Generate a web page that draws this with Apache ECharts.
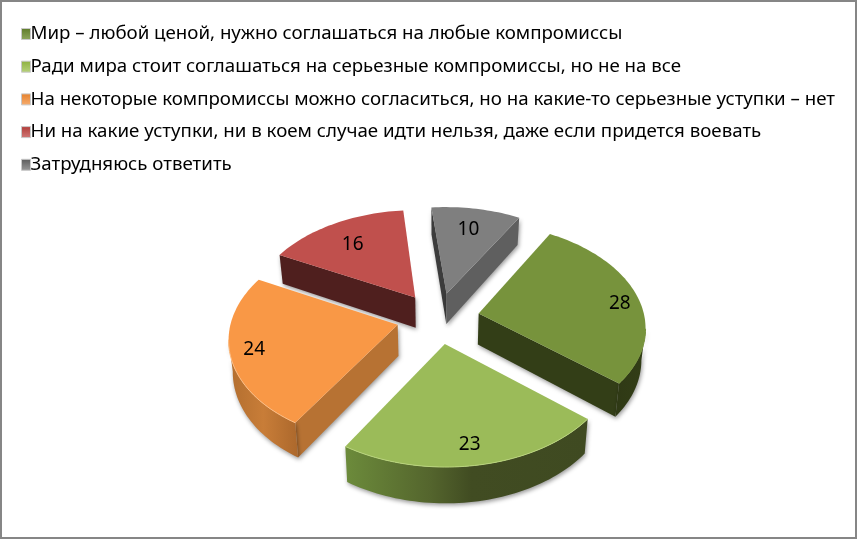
<!DOCTYPE html>
<html><head><meta charset="utf-8">
<style>html,body{margin:0;padding:0;background:#fff}#c{width:857px;height:539px}</style>
<script src="https://cdn.jsdelivr.net/npm/echarts@6/dist/echarts.min.js"></script>
</head><body><div id="c"></div>
<script>
const categories = [
  'Мир – любой ценой, нужно соглашаться на любые компромиссы',
  'Ради мира стоит соглашаться на серьезные компромиссы, но не на все',
  'На некоторые компромиссы можно согласиться, но на какие-то серьезные уступки – нет',
  'Ни на какие уступки, ни в коем случае идти нельзя, даже если придется воевать',
  'Затрудняюсь ответить'
];
const values = [28, 23, 24, 16, 10];

const topColors = ['#77933C', '#9BBB59', '#F99846', '#C0504D', '#7F7F7F'];
const rimColors = ['#77933C', '#B9D47C', '#FDBE85', '#C0504D', '#7F7F7F'];
const startWall = [null, null, '#B77233', '#4F1F1E', '#3C3C3C'];
const endWall = ['#333E17', null, null, null, '#5F5F5F'];
const arcStops = [
  [[0, '#2F3915'], [1, '#333E17']],
  [[0, '#6C8B3B'], [0.35, '#54652D'], [0.52, '#414C22'], [1, '#3F4A21']],
  [[0, '#B26E2F'], [0.5, '#C87D38'], [1, '#AC682C']],
  null, null
];
const drawRank = [4, 6, 5, 2, 3];
const labelFrac = [0.85, 0.8, 0.9, 0.78, 0.75];
const labelNudge = [[6, 5], [0, 6], [7, -1], [2, 6], [-1, 1]];
const legendIconDark = ['#5E7A28', '#8DB03E', '#E5802A', '#B03A37', '#5A5A5A'];
const legendIconLight = ['#8FA85E', '#B8D27E', '#F7AE72', '#D07A78', '#9A9A9A'];

const startAngle = 30, explode = 0.25, S = 166, k = 0.615, q = 0.117, depth = 31, cx = 438, cy = 318, taper = 0.98;
const total = values.reduce((a, b) => a + b, 0);
const rad = d => d * Math.PI / 180;

function project(u, v, drop) {
  const w = 1 + q * v;
  const x = cx + S * u / w, y = cy - S * k * v / w;
  return drop ? [cx + (x - cx) * taper, y + depth / w] : [x, y];
}
function sliceAngles(i) {
  let a = startAngle;
  for (let j = 0; j < i; j++) a += values[j] / total * 360;
  return [a, a + values[i] / total * 360];
}
function makeRender(i) {
  return function (params, api) {
    const val = api.value(0);
    const [a1, a2] = sliceAngles(i);
    const m = rad((a1 + a2) / 2);
    const ou = explode * Math.sin(m), ov = explode * Math.cos(m);
    const pt = (a, d) => project(ou + Math.sin(rad(a)), ov + Math.cos(rad(a)), d);
    const apex = d => project(ou, ov, d);
    const arcAngles = [];
    const n = Math.ceil((a2 - a1) / 1.5);
    for (let s = 0; s <= n; s++) arcAngles.push(a1 + (a2 - a1) * s / n);
    const shadow = { shadowBlur: 4, shadowColor: 'rgba(0,0,0,0.4)', shadowOffsetX: 1, shadowOffsetY: 2 };
    const children = [];
    const quad = (p, q2, color) => children.push({
      type: 'polygon', silent: true,
      shape: { points: [p(false), q2(false), q2(true), p(true)] },
      style: Object.assign({ fill: color }, shadow)
    });
    if (startWall[i]) quad(d => apex(d), d => pt(a1, d), startWall[i]);
    if (endWall[i]) quad(d => pt(a2, d), d => apex(d), endWall[i]);
    const vis = arcAngles.filter((a, idx) => {
      const nxt = arcAngles[idx + 1], prv = arcAngles[idx - 1];
      return (nxt !== undefined && pt(nxt, false)[0] < pt(a, false)[0]) ||
             (prv !== undefined && pt(a, false)[0] < pt(prv, false)[0]);
    });
    if (vis.length > 1 && arcStops[i]) {
      const pts = vis.map(a => pt(a, false)).concat(vis.slice().reverse().map(a => pt(a, true)));
      children.push({
        type: 'polygon', silent: true, shape: { points: pts },
        style: Object.assign({
          fill: { type: 'linear', x: 0, y: 0, x2: 1, y2: 0,
            colorStops: arcStops[i].map(s => ({ offset: s[0], color: s[1] })) }
        }, shadow)
      });
    }
    const topPts = [apex(false)].concat(arcAngles.map(a => pt(a, false)));
    children.push({ type: 'polygon', silent: true, shape: { points: topPts }, style: { fill: topColors[i] } });
    if (vis.length > 1) children.push({
      type: 'polyline', silent: true, shape: { points: vis.map(a => pt(a, false)) },
      style: { fill: 'none', stroke: rimColors[i], lineWidth: 1 }
    });
    const f = labelFrac[i];
    const lp = project(ou + f * Math.sin(m), ov + f * Math.cos(m), false);
    children.push({
      type: 'text', silent: true, x: lp[0] + labelNudge[i][0], y: lp[1] + labelNudge[i][1],
      style: { text: String(val), fill: '#000', font: '19px "Noto Sans", sans-serif', align: 'center', verticalAlign: 'middle' }
    });
    return { type: 'group', children };
  };
}
const chart = echarts.init(document.getElementById('c'), null, { renderer: 'canvas' });
chart.setOption({
  animation: false,
  backgroundColor: '#fff',
  legend: {
    orient: 'vertical', left: 16, top: 17, itemWidth: 9, itemHeight: 11, itemGap: 8.7,
    selectedMode: false, icon: 'rect',
    textStyle: { color: '#000', fontSize: 18.7, fontFamily: '"Noto Sans", sans-serif', lineHeight: 24, padding: [0, 0, 0, -5] },
    data: categories.map((name, i) => ({
      name,
      itemStyle: {
        color: { type: 'linear', x: 0, y: 0, x2: 0, y2: 1,
          colorStops: [{ offset: 0, color: legendIconDark[i] }, { offset: 1, color: legendIconLight[i] }] },
        borderColor: '#C9C9C9', borderWidth: 1
      }
    }))
  },
  graphic: [{ type: 'rect', silent: true, z: 100,
    shape: { x: 1, y: 1, width: 855, height: 537 },
    style: { fill: 'none', stroke: '#868686', lineWidth: 2 } }],
  series: categories.map((name, i) => ({
    type: 'custom', name, coordinateSystem: 'none', z: drawRank[i], silent: true,
    itemStyle: { color: topColors[i] },
    renderItem: makeRender(i),
    data: [[values[i]]]
  }))
});
</script></body></html>
